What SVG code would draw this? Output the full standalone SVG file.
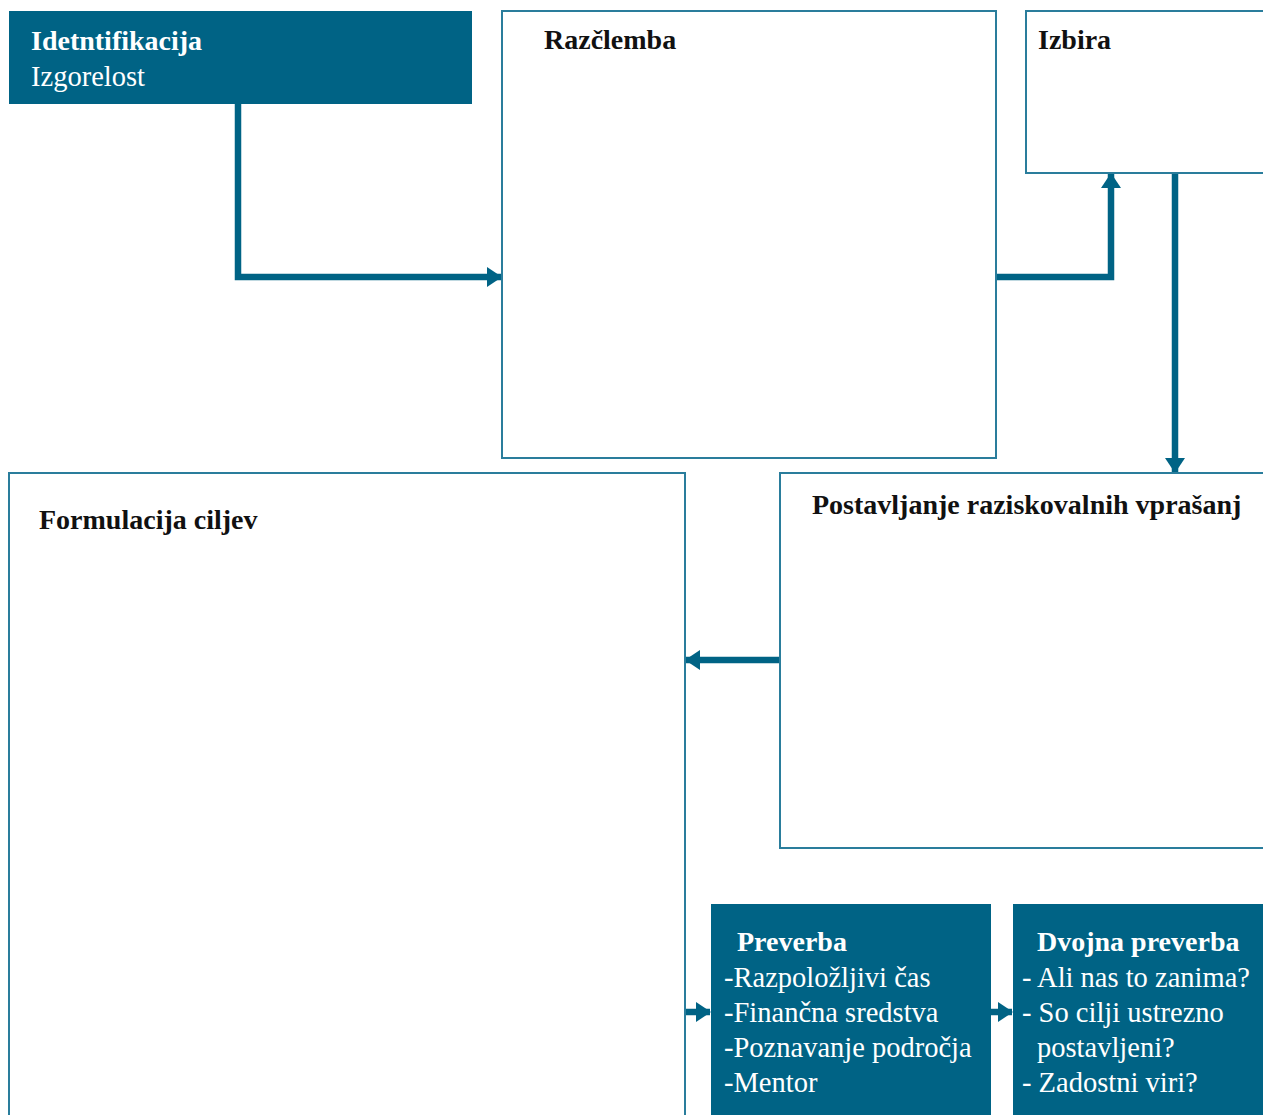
<svg xmlns="http://www.w3.org/2000/svg" width="1263" height="1115" viewBox="0 0 1263 1115">
<defs>
<style>
.fill{fill:#006385;}
.box{fill:#fff;stroke:#2a7d9c;stroke-width:2;}
.t{font-family:"Liberation Serif",serif;font-size:28.5px;}
.b{font-weight:bold;font-size:28px;}
.w{fill:#fff;}
.k{fill:#111;}
.c{fill:none;stroke:#006385;stroke-width:6.5;}
</style>
<marker id="ah" viewBox="0 0 15 20" refX="14" refY="10" markerWidth="15" markerHeight="20" orient="auto" markerUnits="userSpaceOnUse">
<path d="M0,0 L15,10 L0,20 z" fill="#006385"/>
</marker>
</defs>
<rect width="1263" height="1115" fill="#fff"/>
<g id="connectors">
<polyline class="c" points="238,104 238,277 501,277" marker-end="url(#ah)"/>
<polyline class="c" points="992,277 1111,277 1111,174" marker-end="url(#ah)"/>
<polyline class="c" points="1175,173 1175,472" marker-end="url(#ah)"/>
<polyline class="c" points="780,660 686,660" marker-end="url(#ah)"/>
<polyline class="c" points="686,1012 710,1012" marker-end="url(#ah)"/>
<polyline class="c" points="991,1012 1012,1012" marker-end="url(#ah)"/>
</g>
<g id="identifikacija">
<rect class="fill" x="9" y="11" width="463" height="93"/>
<text class="t b w" x="31" y="50">Idetntifikacija</text>
<text class="t w" x="31" y="86">Izgorelost</text>
</g>
<g id="razclemba">
<rect class="box" x="502" y="11" width="494" height="447"/>
<text class="t b k" x="544" y="49">Razčlemba</text>
</g>
<g id="izbira">
<rect class="box" x="1026" y="11" width="245" height="162"/>
<text class="t b k" x="1038" y="49">Izbira</text>
</g>
<g id="formulacija">
<rect class="box" x="9" y="473" width="676" height="650"/>
<text class="t b k" x="39" y="529">Formulacija ciljev</text>
</g>
<g id="postavljanje">
<rect class="box" x="780" y="473" width="490" height="375"/>
<text class="t b k" x="812" y="514">Postavljanje raziskovalnih vprašanj</text>
</g>
<g id="preverba">
<rect class="fill" x="711" y="904" width="280" height="215"/>
<text class="t b w" x="737" y="951">Preverba</text>
<text class="t w" x="724" y="987">-Razpoložljivi čas</text>
<text class="t w" x="724" y="1022">-Finančna sredstva</text>
<text class="t w" x="724" y="1057">-Poznavanje področja</text>
<text class="t w" x="724" y="1092">-Mentor</text>
</g>
<g id="dvojna">
<rect class="fill" x="1013" y="904" width="260" height="215"/>
<text class="t b w" x="1037" y="951">Dvojna preverba</text>
<text class="t w" x="1022" y="987">- Ali nas to zanima?</text>
<text class="t w" x="1022" y="1022">- So cilji ustrezno</text>
<text class="t w" x="1037" y="1057">postavljeni?</text>
<text class="t w" x="1022" y="1092">- Zadostni viri?</text>
</g>
</svg>
